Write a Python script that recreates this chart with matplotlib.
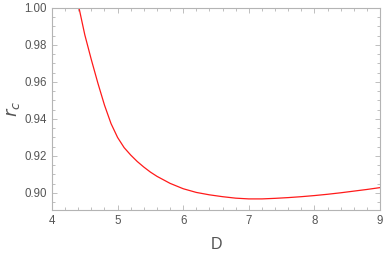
import matplotlib
matplotlib.use("Agg")
import matplotlib.pyplot as plt
from matplotlib.ticker import MultipleLocator, FormatStrFormatter

D_vals = [4.412, 4.50, 4.60, 4.70, 4.80, 4.90, 5.00, 5.10, 5.20, 5.30, 5.40, 5.50,
          5.60, 5.80, 6.00, 6.20, 6.40, 6.60, 6.80, 7.00, 7.20, 7.40, 7.60, 7.80,
          8.00, 8.20, 8.40, 8.60, 8.80, 9.00]
rc_vals = [1.000, 0.9855, 0.9720, 0.9593, 0.9475, 0.9375, 0.9300, 0.9245, 0.9205,
           0.9170, 0.9140, 0.9113, 0.9090, 0.9052, 0.9023, 0.9003, 0.8990, 0.8980,
           0.8972, 0.8968, 0.8968, 0.8971, 0.8975, 0.8980, 0.8986, 0.8993, 0.9001,
           0.9010, 0.9019, 0.9029]

x_ticks = [4, 5, 6, 7, 8, 9]
y_ticks = [0.90, 0.92, 0.94, 0.96, 0.98, 1.00]

plt.rcParams['font.family'] = ['Liberation Sans', 'DejaVu Sans']
fig = plt.figure(figsize=(3.84, 2.54), dpi=100)
ax = fig.add_axes([52/384, 1 - 210/254, (380-52)/384, (210-8)/254])
ax.plot(D_vals, rc_vals, color='#ff1a1a', lw=0.9)
ax.set_xlim(4, 9)
ax.set_ylim(0.8908, 1.0)
ax.set_xticks(x_ticks)
ax.set_yticks(y_ticks)
ax.yaxis.set_major_formatter(FormatStrFormatter('%.2f'))
ax.xaxis.set_minor_locator(MultipleLocator(0.2))
ax.yaxis.set_minor_locator(MultipleLocator(0.005))
frame_col = '#b4b4b4'
for s in ax.spines.values():
    s.set_color(frame_col)
    s.set_linewidth(0.8)
ax.tick_params(which='both', direction='in', top=True, right=True, color=frame_col,
               labelcolor='#555555', labelsize=8.3, width=0.6)
ax.tick_params(which='major', length=3.5, pad=3.5)
ax.tick_params(which='minor', length=2)
ax.set_xlabel('D', color='#555555', fontsize=11.5, labelpad=7)
ax.set_ylabel(r'$r_c$', color='#555555', fontsize=13, labelpad=2)
fig.savefig('out.png', dpi=100)
